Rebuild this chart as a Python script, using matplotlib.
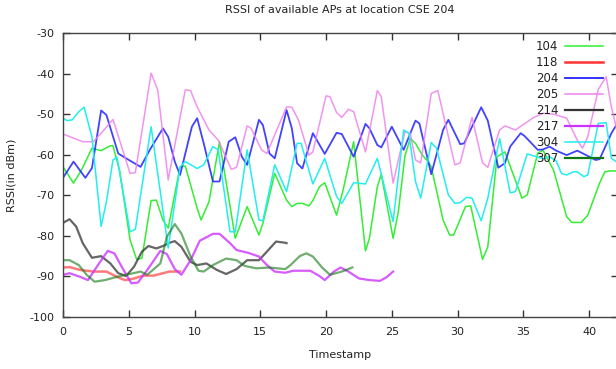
import matplotlib.pyplot as plt

# AP 104
t_104 = [0, 0.8, 1.4, 2.2, 2.9, 3.6, 3.8, 4.3, 5.1, 5.6, 6.0, 6.7, 7.1, 7.6, 8.0, 8.9, 9.3,
         10.2, 10.5, 11.1, 11.9, 13.1, 14.0, 14.9, 15.2, 16.1, 17.0, 17.4, 17.8, 18.2, 18.7,
         19.0, 19.5, 19.9, 20.8, 21.3, 22.1, 23.0, 23.3, 23.9, 24.2, 25.1, 25.5, 26.0, 26.4,
         26.8, 27.3, 27.7, 28.0, 28.9, 29.4, 29.7, 30.6, 31.0, 31.9, 32.3, 33.0, 33.6, 34.9,
         35.3, 36.1, 36.5, 37.3, 38.3, 38.7, 39.4, 39.9, 40.8, 41.2, 41.6, 42.2]
v_104 = [-63, -67, -63.8, -58.4, -59, -57.8, -57.8, -63.8, -81, -85.8, -85.5, -71.3, -71.2, -76.1,
         -78.1, -63, -62.8, -73.2, -76.1, -71.6, -56.8, -80.6, -72.8, -79.8, -76.9, -64.6, -71.2,
         -72.8, -72, -72, -72.6, -71.3, -67.9, -66.9, -74.9, -68.7, -56.8, -83.7, -80.6, -67.9,
         -64.8, -80.6, -74, -60.3, -56, -57.2, -60, -61.5, -63, -76.1, -79.8, -79.8, -72.8, -72.6,
         -85.8, -82.7, -60.5, -59.3, -70.7, -69.9, -59.6, -58.9, -63.8, -75.3, -76.7, -76.7, -74.9,
         -67, -64.2, -64, -64]

# AP 118
t_118 = [0, 0.5, 1.3, 2.3, 3.3, 4.1, 4.7, 5.3, 6.1, 6.9, 7.6, 8.1, 8.9]
v_118 = [-87.8, -87.7, -88.4, -88.8, -88.8, -90.1, -90.9, -90.6, -89.8, -89.8, -89.2, -88.8, -88.8]

# AP 204
t_204 = [0, 0.8, 1.7, 2.2, 2.9, 3.3, 4.2, 4.8, 5.9, 6.6, 7.6, 8.0, 8.5, 8.9, 9.8, 10.2, 10.7,
         11.4, 11.9, 12.6, 13.1, 13.6, 14.0, 14.9, 15.2, 15.7, 16.1, 17.0, 17.4, 17.8, 18.2,
         19.0, 19.9, 20.8, 21.2, 22.1, 23.0, 23.3, 23.9, 24.2, 25.0, 25.9, 26.8, 27.1, 28.0,
         28.9, 29.3, 30.2, 30.5, 31.8, 32.3, 33.1, 33.6, 34.0, 34.8, 35.1, 36.1, 36.5, 37.0,
         37.5, 38.3, 39.1, 39.6, 40.5, 40.8, 41.7, 42.2]
v_204 = [-65.7, -61.7, -65.7, -63.3, -49.1, -50.2, -59.7, -60.9, -63, -58.8, -53.5, -55.6, -61.7,
         -65, -53.1, -51, -57.2, -66.6, -66.6, -56.8, -55.7, -60.5, -62.5, -51.4, -52.7, -59.7,
         -60.9, -49, -53.5, -62.1, -63.4, -54.7, -59.8, -54.6, -54.9, -60.5, -52.4, -53.5, -57.6,
         -58.2, -53.1, -58.8, -51.6, -52.3, -64.8, -53.9, -51.4, -57.4, -57.2, -48.3, -51.6,
         -63.2, -62.1, -58, -54.7, -55.4, -58.8, -58.7, -58, -59, -60.1, -59, -59.8, -61.3,
         -61.1, -54.7, -52]

# AP 205
t_205 = [0, 1.5, 2.3, 2.9, 3.8, 4.3, 5.1, 5.5, 6.7, 7.2, 8.0, 9.3, 9.7, 10.2, 11.1, 11.8,
         12.8, 13.2, 14.0, 14.3, 15.1, 15.5, 17.0, 17.4, 17.9, 18.7, 19.0, 20.0, 20.3, 20.8,
         21.2, 21.7, 22.1, 23.0, 23.9, 24.2, 25.1, 26.0, 26.4, 26.8, 27.2, 28.0, 28.5, 29.8,
         30.2, 31.1, 31.9, 32.3, 33.2, 33.6, 34.4, 35.8, 36.5, 37.3, 38.3, 39.1, 39.5, 39.9,
         40.7, 41.3, 41.7, 42.2]
v_205 = [-54.9, -56.8, -56.8, -54.7, -51.3, -56.4, -64.6, -64.4, -39.9, -44, -66.2, -44, -44.2,
         -48.2, -53.9, -56.4, -63.6, -63.1, -52.9, -53.5, -58.8, -59.7, -48.2, -48.3, -51.4,
         -60.1, -59.3, -45.5, -45.7, -49.6, -50.8, -48.8, -49.4, -59.3, -44.2, -45.7, -67,
         -54.3, -54.7, -61.3, -62, -44.9, -44.2, -62.5, -62, -50.8, -62, -63.1, -53.9, -52.9,
         -53.9, -50.8, -49.8, -50, -51, -56.4, -58.4, -55.6, -43.9, -40.8, -48.3, -55]

# AP 214
t_214 = [0, 0.5, 1.0, 1.5, 2.2, 2.9, 3.6, 4.2, 4.8, 5.4, 6.0, 6.5, 7.1, 7.6, 8.1, 8.5, 9.0,
         9.7, 10.2, 10.9, 11.7, 12.4, 13.2, 14.0, 14.9, 15.5, 16.2, 16.9, 17.0]
v_214 = [-76.8, -75.9, -77.7, -81.8, -85.4, -85, -86.8, -89.2, -89.9, -87.6, -83.9, -82.5, -83.1,
         -82.5, -81.7, -81.3, -82.7, -86.4, -87.2, -86.8, -88.4, -89.4, -88.2, -86, -86, -83.9,
         -81.4, -81.7, -81.8]

# AP 217
t_217 = [0, 0.5, 1.3, 1.9, 2.7, 3.4, 3.9, 4.6, 5.2, 5.7, 6.5, 7.4, 7.9, 8.5, 9.0, 9.7, 10.4,
         11.4, 11.9, 12.7, 13.2, 14.1, 14.9, 15.5, 16.1, 16.9, 17.5, 18.8, 19.5, 19.9, 20.6,
         21.1, 21.7, 22.5, 23.3, 24.1, 24.6, 25.1]
v_217 = [-89.6, -89.2, -90.1, -90.9, -87, -83.7, -84.3, -88.4, -91.7, -91.5, -88, -83.7, -84.5,
         -88.2, -89.6, -86, -81.2, -79.5, -79.5, -81.8, -83.5, -84.2, -85.1, -87.2, -88.8,
         -89.1, -88.6, -88.6, -89.9, -90.9, -88.8, -87.8, -88.8, -90.5, -90.9, -91.1, -90.2,
         -88.8]

# AP 304
t_304 = [0, 0.3, 0.7, 1.2, 1.6, 2.2, 2.9, 3.3, 3.8, 4.1, 5.1, 5.5, 6.7, 8.0, 8.9, 9.3, 10.2,
         10.7, 11.4, 11.8, 12.7, 13.1, 14.0, 14.9, 15.2, 16.1, 17.0, 17.8, 18.1, 19.0, 19.9,
         20.8, 21.2, 22.1, 23.0, 23.9, 25.1, 25.9, 26.3, 26.8, 27.2, 28.0, 28.4, 29.3, 29.8,
         30.2, 30.7, 31.1, 31.8, 32.3, 33.2, 34.0, 34.4, 35.3, 36.0, 36.5, 37.0, 37.5, 37.9,
         38.3, 38.8, 39.1, 39.6, 39.9, 40.7, 41.3, 41.7, 42.2]
v_304 = [-51, -51.6, -51.4, -49.4, -48.3, -55.6, -77.7, -71.6, -61.3, -60.6, -79, -78.4, -53.1,
         -83, -63, -61.7, -63.4, -62.5, -58, -58.8, -79, -79, -58.8, -76.1, -76.3, -62.5, -69.1,
         -57.2, -57.2, -67.2, -60.9, -70.3, -72, -66.9, -67.2, -60.9, -76.5, -53.9, -54.7,
         -66.6, -70.7, -57, -58.4, -69.9, -72, -71.8, -70.5, -70.7, -76.3, -70.7, -56, -69.4,
         -69.1, -59.8, -60.5, -61, -60.5, -61.5, -64.6, -65, -64.2, -64.2, -65.4, -65, -52.3,
         -52.1, -60.9, -62]

# AP 307
t_307 = [0, 0.5, 1.2, 1.8, 2.4, 3.2, 4.1, 4.8, 5.9, 6.4, 7.4, 7.9, 8.5, 9.0, 9.7, 10.3, 10.7,
         11.4, 12.4, 13.2, 13.8, 14.7, 15.7, 16.9, 17.3, 18.0, 18.5, 19.0, 19.7, 20.3, 21.2,
         22.0]
v_307 = [-86, -86, -87.2, -89.6, -91.3, -90.9, -90.1, -89.6, -88.8, -89.6, -86.8, -80.2, -77.1,
         -79.4, -85.1, -88.6, -88.8, -87.2, -85.6, -86, -87.4, -88, -87.8, -88.2, -87.2, -85,
         -84.3, -85.1, -87.8, -89.6, -88.8, -87.8]

plt.rcParams['font.family'] = 'DejaVu Sans'
plt.rcParams['axes.unicode_minus'] = False

fig = plt.figure(figsize=(6.16, 3.69), dpi=100)
ax = fig.add_axes([63 / 616, 1 - 317 / 369, (618 - 63) / 616, (317 - 33) / 369])

ax.plot(t_104, v_104, color='#33ee33', lw=1.1, label='104')
ax.plot(t_118, v_118, color='#ff3333', lw=1.8, alpha=0.65, label='118')
ax.plot(t_204, v_204, color='#2222ff', lw=1.3, alpha=0.85, label='204')
ax.plot(t_205, v_205, color='#ee82ee', lw=1.1, alpha=0.85, label='205')
ax.plot(t_214, v_214, color='#333333', lw=1.6, alpha=0.75, label='214')
ax.plot(t_217, v_217, color='#cc33ff', lw=1.6, alpha=0.8, label='217')
ax.plot(t_304, v_304, color='#22eeee', lw=1.1, label='304')
ax.plot(t_307, v_307, color='#117711', lw=1.6, alpha=0.6, label='307')

ax.set_xlim(0, 42.2)
ax.set_ylim(-100, -30)
ax.set_xticks(range(0, 41, 5))
ax.set_yticks(range(-100, -29, 10))
ax.tick_params(direction='in', length=5, width=1, labelsize=8, color='#333333',
               labelcolor='#222222', top=True, right=True)
ax.tick_params(axis='x', pad=7)
ax.tick_params(axis='y', pad=6)
for s in ax.spines.values():
    s.set_color('#444444')
    s.set_linewidth(1)
ax.spines['right'].set_visible(False)

fig.text(340 / 616, 1 - 10 / 369, 'RSSI of available APs at location CSE 204',
         ha='center', va='center', fontsize=8, color='#222222')
fig.text(340 / 616, 1 - 355 / 369, 'Timestamp', ha='center', va='center', fontsize=8,
         color='#222222')
fig.text(12 / 616, 1 - 175 / 369, 'RSSI(in dBm)', ha='center', va='center',
         rotation=90, fontsize=8, color='#222222')

leg = ax.legend(loc='upper right', bbox_to_anchor=(603 / 616, 1 - 40 / 369),
                bbox_transform=fig.transFigure, frameon=False, markerfirst=False,
                fontsize=8.5, handlelength=3.2, handletextpad=0.6, labelspacing=0.25,
                borderpad=0, borderaxespad=0)
for h in leg.get_lines():
    h.set_alpha(1)
for txt in leg.get_texts():
    txt.set_color('#222222')

plt.savefig('out.png', dpi=100)
plt.close()
